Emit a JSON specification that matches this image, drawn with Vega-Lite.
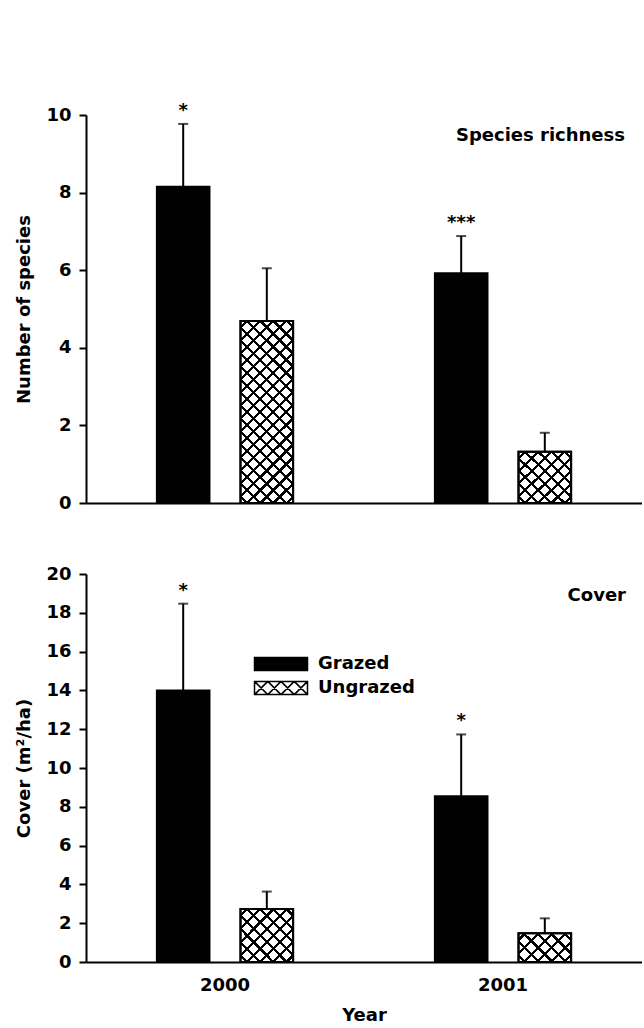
{
  "$schema": "https://vega.github.io/schema/vega-lite/v6.json",
  "autosize": {"type": "pad"},
  "padding": {"left": 15, "top": 101, "right": 0, "bottom": 0},
  "background": "white",
  "datasets": {
    "rich": [
      {"Year": "2000", "Treatment": "Grazed", "value": 8.15, "upper": 9.77, "sig": "*"},
      {"Year": "2000", "Treatment": "Ungrazed", "value": 4.69, "upper": 6.05, "sig": ""},
      {"Year": "2001", "Treatment": "Grazed", "value": 5.92, "upper": 6.88, "sig": "***"},
      {"Year": "2001", "Treatment": "Ungrazed", "value": 1.32, "upper": 1.81, "sig": ""}
    ],
    "cover": [
      {"Year": "2000", "Treatment": "Grazed", "value": 14.0, "upper": 18.47, "sig": "*"},
      {"Year": "2000", "Treatment": "Ungrazed", "value": 2.73, "upper": 3.63, "sig": ""},
      {"Year": "2001", "Treatment": "Grazed", "value": 8.55, "upper": 11.73, "sig": "*"},
      {"Year": "2001", "Treatment": "Ungrazed", "value": 1.48, "upper": 2.25, "sig": ""}
    ]
  },
  "spacing": 53,
  "resolve": {"scale": {"fill": "independent", "x": "independent", "y": "independent"}, "legend": {"fill": "independent"}},
  "config": {
    "font": "DejaVu Sans",
    "view": {"stroke": null},
    "axis": {
      "grid": false,
      "labelFont": "DejaVu Sans", "labelFontSize": 18, "labelFontWeight": "bold", "labelColor": "black",
      "titleFont": "DejaVu Sans", "titleFontSize": 18, "titleFontWeight": "bold", "titleColor": "black",
      "domainColor": "black", "domainWidth": 2, "tickColor": "black", "tickWidth": 2, "tickSize": 7
    },
    "legend": {"labelFont": "DejaVu Sans", "labelFontSize": 18, "labelFontWeight": "bold", "labelColor": "black"},
    "title": {"font": "DejaVu Sans", "fontSize": 18, "fontWeight": "bold", "color": "black"}
  },
  "vconcat": [
    {
      "width": 556, "height": 388,
      "title": {"text": "Species richness", "anchor": "end", "orient": "top", "offset": -43, "dx": -17},
      "data": {"name": "rich"},
      "encoding": {
        "x": {"field": "Year", "type": "nominal", "scale": {"paddingInner": 0.51, "paddingOuter": 0.255}, "axis": {"labels": false, "ticks": false, "title": null}},
        "xOffset": {"field": "Treatment", "type": "nominal", "scale": {"paddingInner": 0.371, "paddingOuter": 0}},
        "y": {"field": "value", "type": "quantitative", "scale": {"domain": [0, 10]}, "axis": {"values": [0, 2, 4, 6, 8, 10], "title": "Number of species", "labelPadding": 8, "titlePadding": 12}}
      },
      "layer": [
        {"mark": {"type": "bar", "stroke": "black", "strokeWidth": 2},
         "encoding": {"fill": {"condition": {"test": "datum.Treatment === 'Grazed'", "value": "black"}, "value": "white"}}},
        {"transform": [{"filter": "datum.Treatment === 'Ungrazed'"}],
         "mark": {"type": "bar"},
         "encoding": {"fill": {
           "condition": {"test": "datum.Year === '2000'", "value": {"gradient": "linear", "x1": 0, "y1": 0, "x2": 0.3431, "y2": 1.1895, "stops": [
             {"offset": 0, "color": "rgba(0,0,0,0)"},
             {"offset": 0.0211, "color": "rgba(0,0,0,0)"}, {"offset": 0.0211, "color": "#000"}, {"offset": 0.0344, "color": "#000"}, {"offset": 0.0344, "color": "rgba(0,0,0,0)"},
             {"offset": 0.0767, "color": "rgba(0,0,0,0)"}, {"offset": 0.0767, "color": "#000"}, {"offset": 0.0900, "color": "#000"}, {"offset": 0.0900, "color": "rgba(0,0,0,0)"},
             {"offset": 0.1322, "color": "rgba(0,0,0,0)"}, {"offset": 0.1322, "color": "#000"}, {"offset": 0.1456, "color": "#000"}, {"offset": 0.1456, "color": "rgba(0,0,0,0)"},
             {"offset": 0.1878, "color": "rgba(0,0,0,0)"}, {"offset": 0.1878, "color": "#000"}, {"offset": 0.2011, "color": "#000"}, {"offset": 0.2011, "color": "rgba(0,0,0,0)"},
             {"offset": 0.2433, "color": "rgba(0,0,0,0)"}, {"offset": 0.2433, "color": "#000"}, {"offset": 0.2567, "color": "#000"}, {"offset": 0.2567, "color": "rgba(0,0,0,0)"},
             {"offset": 0.2989, "color": "rgba(0,0,0,0)"}, {"offset": 0.2989, "color": "#000"}, {"offset": 0.3122, "color": "#000"}, {"offset": 0.3122, "color": "rgba(0,0,0,0)"},
             {"offset": 0.3544, "color": "rgba(0,0,0,0)"}, {"offset": 0.3544, "color": "#000"}, {"offset": 0.3678, "color": "#000"}, {"offset": 0.3678, "color": "rgba(0,0,0,0)"},
             {"offset": 0.4100, "color": "rgba(0,0,0,0)"}, {"offset": 0.4100, "color": "#000"}, {"offset": 0.4233, "color": "#000"}, {"offset": 0.4233, "color": "rgba(0,0,0,0)"},
             {"offset": 0.4656, "color": "rgba(0,0,0,0)"}, {"offset": 0.4656, "color": "#000"}, {"offset": 0.4789, "color": "#000"}, {"offset": 0.4789, "color": "rgba(0,0,0,0)"},
             {"offset": 0.5211, "color": "rgba(0,0,0,0)"}, {"offset": 0.5211, "color": "#000"}, {"offset": 0.5344, "color": "#000"}, {"offset": 0.5344, "color": "rgba(0,0,0,0)"},
             {"offset": 0.5767, "color": "rgba(0,0,0,0)"}, {"offset": 0.5767, "color": "#000"}, {"offset": 0.5900, "color": "#000"}, {"offset": 0.5900, "color": "rgba(0,0,0,0)"},
             {"offset": 0.6322, "color": "rgba(0,0,0,0)"}, {"offset": 0.6322, "color": "#000"}, {"offset": 0.6456, "color": "#000"}, {"offset": 0.6456, "color": "rgba(0,0,0,0)"},
             {"offset": 0.6878, "color": "rgba(0,0,0,0)"}, {"offset": 0.6878, "color": "#000"}, {"offset": 0.7011, "color": "#000"}, {"offset": 0.7011, "color": "rgba(0,0,0,0)"},
             {"offset": 0.7433, "color": "rgba(0,0,0,0)"}, {"offset": 0.7433, "color": "#000"}, {"offset": 0.7567, "color": "#000"}, {"offset": 0.7567, "color": "rgba(0,0,0,0)"},
             {"offset": 0.7989, "color": "rgba(0,0,0,0)"}, {"offset": 0.7989, "color": "#000"}, {"offset": 0.8122, "color": "#000"}, {"offset": 0.8122, "color": "rgba(0,0,0,0)"},
             {"offset": 0.8544, "color": "rgba(0,0,0,0)"}, {"offset": 0.8544, "color": "#000"}, {"offset": 0.8678, "color": "#000"}, {"offset": 0.8678, "color": "rgba(0,0,0,0)"},
             {"offset": 0.9100, "color": "rgba(0,0,0,0)"}, {"offset": 0.9100, "color": "#000"}, {"offset": 0.9233, "color": "#000"}, {"offset": 0.9233, "color": "rgba(0,0,0,0)"},
             {"offset": 0.9656, "color": "rgba(0,0,0,0)"}, {"offset": 0.9656, "color": "#000"}, {"offset": 0.9789, "color": "#000"}, {"offset": 0.9789, "color": "rgba(0,0,0,0)"},
             {"offset": 1, "color": "rgba(0,0,0,0)"}
           ]}},
           "value": {"gradient": "linear", "x1": 0, "y1": 0, "x2": 1, "y2": 1, "stops": [
             {"offset": 0, "color": "rgba(0,0,0,0)"},
             {"offset": 0.0475, "color": "rgba(0,0,0,0)"}, {"offset": 0.0475, "color": "#000"}, {"offset": 0.0775, "color": "#000"}, {"offset": 0.0775, "color": "rgba(0,0,0,0)"},
             {"offset": 0.1725, "color": "rgba(0,0,0,0)"}, {"offset": 0.1725, "color": "#000"}, {"offset": 0.2025, "color": "#000"}, {"offset": 0.2025, "color": "rgba(0,0,0,0)"},
             {"offset": 0.2975, "color": "rgba(0,0,0,0)"}, {"offset": 0.2975, "color": "#000"}, {"offset": 0.3275, "color": "#000"}, {"offset": 0.3275, "color": "rgba(0,0,0,0)"},
             {"offset": 0.4225, "color": "rgba(0,0,0,0)"}, {"offset": 0.4225, "color": "#000"}, {"offset": 0.4525, "color": "#000"}, {"offset": 0.4525, "color": "rgba(0,0,0,0)"},
             {"offset": 0.5475, "color": "rgba(0,0,0,0)"}, {"offset": 0.5475, "color": "#000"}, {"offset": 0.5775, "color": "#000"}, {"offset": 0.5775, "color": "rgba(0,0,0,0)"},
             {"offset": 0.6725, "color": "rgba(0,0,0,0)"}, {"offset": 0.6725, "color": "#000"}, {"offset": 0.7025, "color": "#000"}, {"offset": 0.7025, "color": "rgba(0,0,0,0)"},
             {"offset": 0.7975, "color": "rgba(0,0,0,0)"}, {"offset": 0.7975, "color": "#000"}, {"offset": 0.8275, "color": "#000"}, {"offset": 0.8275, "color": "rgba(0,0,0,0)"},
             {"offset": 0.9225, "color": "rgba(0,0,0,0)"}, {"offset": 0.9225, "color": "#000"}, {"offset": 0.9525, "color": "#000"}, {"offset": 0.9525, "color": "rgba(0,0,0,0)"},
             {"offset": 1, "color": "rgba(0,0,0,0)"}
           ]}
         }}},
        {"transform": [{"filter": "datum.Treatment === 'Ungrazed'"}],
         "mark": {"type": "bar", "stroke": "black", "strokeWidth": 2},
         "encoding": {"fill": {
           "condition": {"test": "datum.Year === '2000'", "value": {"gradient": "linear", "x1": 0, "y1": 1, "x2": 0.3431, "y2": -0.1895, "stops": [
             {"offset": 0, "color": "rgba(0,0,0,0)"},
             {"offset": 0.0211, "color": "rgba(0,0,0,0)"}, {"offset": 0.0211, "color": "#000"}, {"offset": 0.0344, "color": "#000"}, {"offset": 0.0344, "color": "rgba(0,0,0,0)"},
             {"offset": 0.0767, "color": "rgba(0,0,0,0)"}, {"offset": 0.0767, "color": "#000"}, {"offset": 0.0900, "color": "#000"}, {"offset": 0.0900, "color": "rgba(0,0,0,0)"},
             {"offset": 0.1322, "color": "rgba(0,0,0,0)"}, {"offset": 0.1322, "color": "#000"}, {"offset": 0.1456, "color": "#000"}, {"offset": 0.1456, "color": "rgba(0,0,0,0)"},
             {"offset": 0.1878, "color": "rgba(0,0,0,0)"}, {"offset": 0.1878, "color": "#000"}, {"offset": 0.2011, "color": "#000"}, {"offset": 0.2011, "color": "rgba(0,0,0,0)"},
             {"offset": 0.2433, "color": "rgba(0,0,0,0)"}, {"offset": 0.2433, "color": "#000"}, {"offset": 0.2567, "color": "#000"}, {"offset": 0.2567, "color": "rgba(0,0,0,0)"},
             {"offset": 0.2989, "color": "rgba(0,0,0,0)"}, {"offset": 0.2989, "color": "#000"}, {"offset": 0.3122, "color": "#000"}, {"offset": 0.3122, "color": "rgba(0,0,0,0)"},
             {"offset": 0.3544, "color": "rgba(0,0,0,0)"}, {"offset": 0.3544, "color": "#000"}, {"offset": 0.3678, "color": "#000"}, {"offset": 0.3678, "color": "rgba(0,0,0,0)"},
             {"offset": 0.4100, "color": "rgba(0,0,0,0)"}, {"offset": 0.4100, "color": "#000"}, {"offset": 0.4233, "color": "#000"}, {"offset": 0.4233, "color": "rgba(0,0,0,0)"},
             {"offset": 0.4656, "color": "rgba(0,0,0,0)"}, {"offset": 0.4656, "color": "#000"}, {"offset": 0.4789, "color": "#000"}, {"offset": 0.4789, "color": "rgba(0,0,0,0)"},
             {"offset": 0.5211, "color": "rgba(0,0,0,0)"}, {"offset": 0.5211, "color": "#000"}, {"offset": 0.5344, "color": "#000"}, {"offset": 0.5344, "color": "rgba(0,0,0,0)"},
             {"offset": 0.5767, "color": "rgba(0,0,0,0)"}, {"offset": 0.5767, "color": "#000"}, {"offset": 0.5900, "color": "#000"}, {"offset": 0.5900, "color": "rgba(0,0,0,0)"},
             {"offset": 0.6322, "color": "rgba(0,0,0,0)"}, {"offset": 0.6322, "color": "#000"}, {"offset": 0.6456, "color": "#000"}, {"offset": 0.6456, "color": "rgba(0,0,0,0)"},
             {"offset": 0.6878, "color": "rgba(0,0,0,0)"}, {"offset": 0.6878, "color": "#000"}, {"offset": 0.7011, "color": "#000"}, {"offset": 0.7011, "color": "rgba(0,0,0,0)"},
             {"offset": 0.7433, "color": "rgba(0,0,0,0)"}, {"offset": 0.7433, "color": "#000"}, {"offset": 0.7567, "color": "#000"}, {"offset": 0.7567, "color": "rgba(0,0,0,0)"},
             {"offset": 0.7989, "color": "rgba(0,0,0,0)"}, {"offset": 0.7989, "color": "#000"}, {"offset": 0.8122, "color": "#000"}, {"offset": 0.8122, "color": "rgba(0,0,0,0)"},
             {"offset": 0.8544, "color": "rgba(0,0,0,0)"}, {"offset": 0.8544, "color": "#000"}, {"offset": 0.8678, "color": "#000"}, {"offset": 0.8678, "color": "rgba(0,0,0,0)"},
             {"offset": 0.9100, "color": "rgba(0,0,0,0)"}, {"offset": 0.9100, "color": "#000"}, {"offset": 0.9233, "color": "#000"}, {"offset": 0.9233, "color": "rgba(0,0,0,0)"},
             {"offset": 0.9656, "color": "rgba(0,0,0,0)"}, {"offset": 0.9656, "color": "#000"}, {"offset": 0.9789, "color": "#000"}, {"offset": 0.9789, "color": "rgba(0,0,0,0)"},
             {"offset": 1, "color": "rgba(0,0,0,0)"}
           ]}},
           "value": {"gradient": "linear", "x1": 0, "y1": 1, "x2": 1, "y2": 0, "stops": [
             {"offset": 0, "color": "rgba(0,0,0,0)"},
             {"offset": 0.0475, "color": "rgba(0,0,0,0)"}, {"offset": 0.0475, "color": "#000"}, {"offset": 0.0775, "color": "#000"}, {"offset": 0.0775, "color": "rgba(0,0,0,0)"},
             {"offset": 0.1725, "color": "rgba(0,0,0,0)"}, {"offset": 0.1725, "color": "#000"}, {"offset": 0.2025, "color": "#000"}, {"offset": 0.2025, "color": "rgba(0,0,0,0)"},
             {"offset": 0.2975, "color": "rgba(0,0,0,0)"}, {"offset": 0.2975, "color": "#000"}, {"offset": 0.3275, "color": "#000"}, {"offset": 0.3275, "color": "rgba(0,0,0,0)"},
             {"offset": 0.4225, "color": "rgba(0,0,0,0)"}, {"offset": 0.4225, "color": "#000"}, {"offset": 0.4525, "color": "#000"}, {"offset": 0.4525, "color": "rgba(0,0,0,0)"},
             {"offset": 0.5475, "color": "rgba(0,0,0,0)"}, {"offset": 0.5475, "color": "#000"}, {"offset": 0.5775, "color": "#000"}, {"offset": 0.5775, "color": "rgba(0,0,0,0)"},
             {"offset": 0.6725, "color": "rgba(0,0,0,0)"}, {"offset": 0.6725, "color": "#000"}, {"offset": 0.7025, "color": "#000"}, {"offset": 0.7025, "color": "rgba(0,0,0,0)"},
             {"offset": 0.7975, "color": "rgba(0,0,0,0)"}, {"offset": 0.7975, "color": "#000"}, {"offset": 0.8275, "color": "#000"}, {"offset": 0.8275, "color": "rgba(0,0,0,0)"},
             {"offset": 0.9225, "color": "rgba(0,0,0,0)"}, {"offset": 0.9225, "color": "#000"}, {"offset": 0.9525, "color": "#000"}, {"offset": 0.9525, "color": "rgba(0,0,0,0)"},
             {"offset": 1, "color": "rgba(0,0,0,0)"}
           ]}
         }}},
        {"mark": {"type": "rule", "color": "black", "strokeWidth": 2},
         "encoding": {"y2": {"field": "upper"}}},
        {"mark": {"type": "tick", "color": "black", "thickness": 2, "size": 10},
         "encoding": {"y": {"field": "upper", "type": "quantitative"}}},
        {"mark": {"type": "text", "baseline": "alphabetic", "dy": -8, "fontSize": 18, "fontWeight": "bold", "color": "black"},
         "encoding": {"y": {"field": "upper", "type": "quantitative"}, "text": {"field": "sig"}}}
      ]
    },
    {
      "width": 556, "height": 388,
      "title": {"text": "Cover", "anchor": "end", "orient": "top", "offset": -40, "dx": -16},
      "data": {"name": "cover"},
      "encoding": {
        "x": {"field": "Year", "type": "nominal", "scale": {"paddingInner": 0.51, "paddingOuter": 0.255}, "axis": {"labelAngle": 0, "ticks": false, "labelPadding": 14, "title": "Year", "titlePadding": 12}},
        "xOffset": {"field": "Treatment", "type": "nominal", "scale": {"paddingInner": 0.371, "paddingOuter": 0}},
        "y": {"field": "value", "type": "quantitative", "scale": {"domain": [0, 20]}, "axis": {"values": [0, 2, 4, 6, 8, 10, 12, 14, 16, 18, 20], "title": "Cover (m²/ha)", "labelPadding": 8, "titlePadding": 12}}
      },
      "layer": [
        {"mark": {"type": "bar", "stroke": "black", "strokeWidth": 2},
         "encoding": {"fill": {"field": "Treatment", "type": "nominal",
           "scale": {"domain": ["Grazed", "Ungrazed"], "range": ["black", "white"]},
           "legend": {"orient": "none", "legendX": 181, "legendY": 76, "title": null,
             "symbolType": "M-2,-0.5H2V0.5H-2Z M-2,-0.5L-1,0.5M-2,0.5L-1,-0.5M-1,-0.5L0,0.5M-1,0.5L0,-0.5M0,-0.5L1,0.5M0,0.5L1,-0.5M1,-0.5L2,0.5M1,0.5L2,-0.5",
             "symbolSize": 702, "symbolStrokeColor": "black", "symbolStrokeWidth": 1.5,
             "labelOffset": 23, "rowPadding": 0}}}},
        {"transform": [{"filter": "datum.Treatment === 'Ungrazed'"}],
         "mark": {"type": "bar"},
         "encoding": {"fill": {
           "condition": {"test": "datum.Year === '2000'", "value": {"gradient": "linear", "x1": 0, "y1": 0, "x2": 1, "y2": 1, "stops": [
             {"offset": 0, "color": "rgba(0,0,0,0)"},
             {"offset": 0.0475, "color": "rgba(0,0,0,0)"}, {"offset": 0.0475, "color": "#000"}, {"offset": 0.0775, "color": "#000"}, {"offset": 0.0775, "color": "rgba(0,0,0,0)"},
             {"offset": 0.1725, "color": "rgba(0,0,0,0)"}, {"offset": 0.1725, "color": "#000"}, {"offset": 0.2025, "color": "#000"}, {"offset": 0.2025, "color": "rgba(0,0,0,0)"},
             {"offset": 0.2975, "color": "rgba(0,0,0,0)"}, {"offset": 0.2975, "color": "#000"}, {"offset": 0.3275, "color": "#000"}, {"offset": 0.3275, "color": "rgba(0,0,0,0)"},
             {"offset": 0.4225, "color": "rgba(0,0,0,0)"}, {"offset": 0.4225, "color": "#000"}, {"offset": 0.4525, "color": "#000"}, {"offset": 0.4525, "color": "rgba(0,0,0,0)"},
             {"offset": 0.5475, "color": "rgba(0,0,0,0)"}, {"offset": 0.5475, "color": "#000"}, {"offset": 0.5775, "color": "#000"}, {"offset": 0.5775, "color": "rgba(0,0,0,0)"},
             {"offset": 0.6725, "color": "rgba(0,0,0,0)"}, {"offset": 0.6725, "color": "#000"}, {"offset": 0.7025, "color": "#000"}, {"offset": 0.7025, "color": "rgba(0,0,0,0)"},
             {"offset": 0.7975, "color": "rgba(0,0,0,0)"}, {"offset": 0.7975, "color": "#000"}, {"offset": 0.8275, "color": "#000"}, {"offset": 0.8275, "color": "rgba(0,0,0,0)"},
             {"offset": 0.9225, "color": "rgba(0,0,0,0)"}, {"offset": 0.9225, "color": "#000"}, {"offset": 0.9525, "color": "#000"}, {"offset": 0.9525, "color": "rgba(0,0,0,0)"},
             {"offset": 1, "color": "rgba(0,0,0,0)"}
           ]}},
           "value": {"gradient": "linear", "x1": 0, "y1": 0, "x2": 1.1908, "y2": 0.651, "stops": [
             {"offset": 0, "color": "rgba(0,0,0,0)"},
             {"offset": 0.0633, "color": "rgba(0,0,0,0)"}, {"offset": 0.0633, "color": "#000"}, {"offset": 0.1033, "color": "#000"}, {"offset": 0.1033, "color": "rgba(0,0,0,0)"},
             {"offset": 0.2300, "color": "rgba(0,0,0,0)"}, {"offset": 0.2300, "color": "#000"}, {"offset": 0.2700, "color": "#000"}, {"offset": 0.2700, "color": "rgba(0,0,0,0)"},
             {"offset": 0.3967, "color": "rgba(0,0,0,0)"}, {"offset": 0.3967, "color": "#000"}, {"offset": 0.4367, "color": "#000"}, {"offset": 0.4367, "color": "rgba(0,0,0,0)"},
             {"offset": 0.5633, "color": "rgba(0,0,0,0)"}, {"offset": 0.5633, "color": "#000"}, {"offset": 0.6033, "color": "#000"}, {"offset": 0.6033, "color": "rgba(0,0,0,0)"},
             {"offset": 0.7300, "color": "rgba(0,0,0,0)"}, {"offset": 0.7300, "color": "#000"}, {"offset": 0.7700, "color": "#000"}, {"offset": 0.7700, "color": "rgba(0,0,0,0)"},
             {"offset": 0.8967, "color": "rgba(0,0,0,0)"}, {"offset": 0.8967, "color": "#000"}, {"offset": 0.9367, "color": "#000"}, {"offset": 0.9367, "color": "rgba(0,0,0,0)"},
             {"offset": 1, "color": "rgba(0,0,0,0)"}
           ]}
         }}},
        {"transform": [{"filter": "datum.Treatment === 'Ungrazed'"}],
         "mark": {"type": "bar", "stroke": "black", "strokeWidth": 2},
         "encoding": {"fill": {
           "condition": {"test": "datum.Year === '2000'", "value": {"gradient": "linear", "x1": 0, "y1": 1, "x2": 1, "y2": 0, "stops": [
             {"offset": 0, "color": "rgba(0,0,0,0)"},
             {"offset": 0.0475, "color": "rgba(0,0,0,0)"}, {"offset": 0.0475, "color": "#000"}, {"offset": 0.0775, "color": "#000"}, {"offset": 0.0775, "color": "rgba(0,0,0,0)"},
             {"offset": 0.1725, "color": "rgba(0,0,0,0)"}, {"offset": 0.1725, "color": "#000"}, {"offset": 0.2025, "color": "#000"}, {"offset": 0.2025, "color": "rgba(0,0,0,0)"},
             {"offset": 0.2975, "color": "rgba(0,0,0,0)"}, {"offset": 0.2975, "color": "#000"}, {"offset": 0.3275, "color": "#000"}, {"offset": 0.3275, "color": "rgba(0,0,0,0)"},
             {"offset": 0.4225, "color": "rgba(0,0,0,0)"}, {"offset": 0.4225, "color": "#000"}, {"offset": 0.4525, "color": "#000"}, {"offset": 0.4525, "color": "rgba(0,0,0,0)"},
             {"offset": 0.5475, "color": "rgba(0,0,0,0)"}, {"offset": 0.5475, "color": "#000"}, {"offset": 0.5775, "color": "#000"}, {"offset": 0.5775, "color": "rgba(0,0,0,0)"},
             {"offset": 0.6725, "color": "rgba(0,0,0,0)"}, {"offset": 0.6725, "color": "#000"}, {"offset": 0.7025, "color": "#000"}, {"offset": 0.7025, "color": "rgba(0,0,0,0)"},
             {"offset": 0.7975, "color": "rgba(0,0,0,0)"}, {"offset": 0.7975, "color": "#000"}, {"offset": 0.8275, "color": "#000"}, {"offset": 0.8275, "color": "rgba(0,0,0,0)"},
             {"offset": 0.9225, "color": "rgba(0,0,0,0)"}, {"offset": 0.9225, "color": "#000"}, {"offset": 0.9525, "color": "#000"}, {"offset": 0.9525, "color": "rgba(0,0,0,0)"},
             {"offset": 1, "color": "rgba(0,0,0,0)"}
           ]}},
           "value": {"gradient": "linear", "x1": 0, "y1": 1, "x2": 1.1908, "y2": 0.349, "stops": [
             {"offset": 0, "color": "rgba(0,0,0,0)"},
             {"offset": 0.0633, "color": "rgba(0,0,0,0)"}, {"offset": 0.0633, "color": "#000"}, {"offset": 0.1033, "color": "#000"}, {"offset": 0.1033, "color": "rgba(0,0,0,0)"},
             {"offset": 0.2300, "color": "rgba(0,0,0,0)"}, {"offset": 0.2300, "color": "#000"}, {"offset": 0.2700, "color": "#000"}, {"offset": 0.2700, "color": "rgba(0,0,0,0)"},
             {"offset": 0.3967, "color": "rgba(0,0,0,0)"}, {"offset": 0.3967, "color": "#000"}, {"offset": 0.4367, "color": "#000"}, {"offset": 0.4367, "color": "rgba(0,0,0,0)"},
             {"offset": 0.5633, "color": "rgba(0,0,0,0)"}, {"offset": 0.5633, "color": "#000"}, {"offset": 0.6033, "color": "#000"}, {"offset": 0.6033, "color": "rgba(0,0,0,0)"},
             {"offset": 0.7300, "color": "rgba(0,0,0,0)"}, {"offset": 0.7300, "color": "#000"}, {"offset": 0.7700, "color": "#000"}, {"offset": 0.7700, "color": "rgba(0,0,0,0)"},
             {"offset": 0.8967, "color": "rgba(0,0,0,0)"}, {"offset": 0.8967, "color": "#000"}, {"offset": 0.9367, "color": "#000"}, {"offset": 0.9367, "color": "rgba(0,0,0,0)"},
             {"offset": 1, "color": "rgba(0,0,0,0)"}
           ]}
         }}},
        {"mark": {"type": "rule", "color": "black", "strokeWidth": 2},
         "encoding": {"y2": {"field": "upper"}}},
        {"mark": {"type": "tick", "color": "black", "thickness": 2, "size": 10},
         "encoding": {"y": {"field": "upper", "type": "quantitative"}}},
        {"mark": {"type": "text", "baseline": "alphabetic", "dy": -8, "fontSize": 18, "fontWeight": "bold", "color": "black"},
         "encoding": {"y": {"field": "upper", "type": "quantitative"}, "text": {"field": "sig"}}}
      ]
    }
  ]
}
